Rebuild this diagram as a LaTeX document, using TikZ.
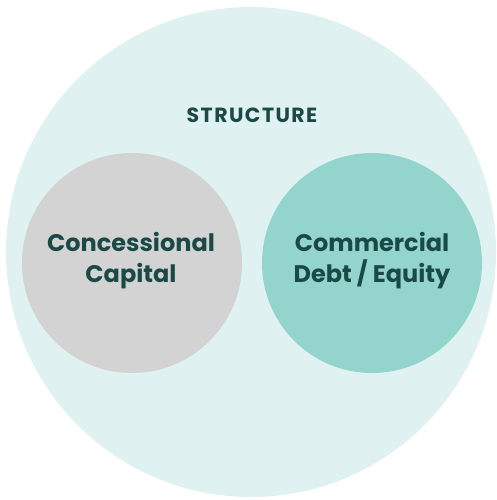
\documentclass[tikz,border=0pt]{standalone}
\usepackage{fontspec}
\setmainfont{Poppins}
\definecolor{bigc}{HTML}{DFF1F1}
\definecolor{grayc}{HTML}{D3D3D4}
\definecolor{tealc}{HTML}{93D4CD}
\definecolor{txt}{HTML}{1B4A46}
\begin{document}
\begin{tikzpicture}[x=1pt,y=-1pt,
  circ/.style={circle,draw=none,inner sep=0pt,minimum size=220pt},
  lbl/.style={text=txt,font=\bfseries\fontsize{24}{31}\selectfont,align=center}]
\useasboundingbox[fill=white] (0,0) rectangle (496,500);
\node[circle,fill=bigc,inner sep=0pt,minimum size=490pt] (outer) at (251,252) {};
\node[text=txt,font=\bfseries\fontsize{20.5}{22}\selectfont\addfontfeature{LetterSpace=7}] (title) at (252,115) {STRUCTURE};
\node[circ,fill=grayc] (left) at (132,263) {};
\node[circ,fill=tealc] (right) at (372,263) {};
\node[lbl] (ltext) at (131,261) {Concessional\\Capital};
\node[lbl] (rtext) at (372,261) {Commercial\\Debt / Equity};
\end{tikzpicture}
\end{document}
